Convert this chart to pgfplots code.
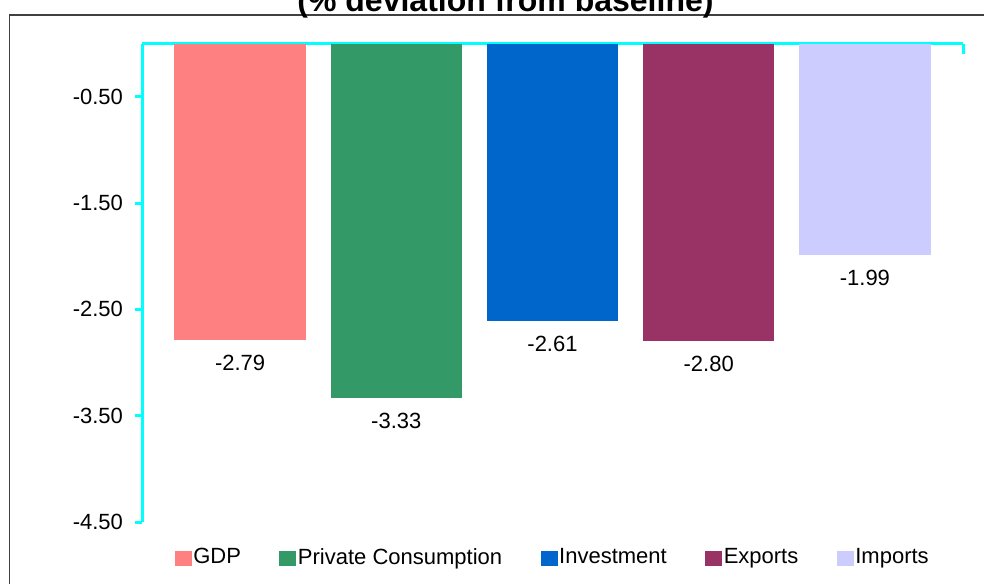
\documentclass[border=0pt]{standalone}
\usepackage{fontspec}
\setmainfont{Liberation Sans}
\usepackage{pgfplots}
\pgfplotsset{compat=1.18}
\definecolor{cGDP}{HTML}{FF8080}
\definecolor{cPC}{HTML}{339966}
\definecolor{cInv}{HTML}{0066CC}
\definecolor{cExp}{HTML}{993366}
\definecolor{cImp}{HTML}{CCCCFF}
\definecolor{axcyan}{HTML}{00FFFF}
\begin{document}
\begin{tikzpicture}
\useasboundingbox (0,0) rectangle (492pt,-291.5pt);
\draw[black!75, line width=0.9pt] (4.75pt,-300pt) -- (4.75pt,-7.35pt) -- (500pt,-7.35pt);
\node[font=\bfseries\fontsize{16}{19}\selectfont, anchor=base, inner sep=0pt] at (252.75pt,-5.75pt) {(\% deviation from baseline)};
\begin{axis}[
  at={(71pt,-21.75pt)}, anchor=north west,
  scale only axis, width=410.5pt, height=239.25pt,
  xmin=-0.628, xmax=4.628, ymin=-4.5, ymax=0,
  axis x line=top, axis y line=left,
  axis line style={-, axcyan, line width=1.5pt},
  xtick=\empty,
  ytick={-4.5,-3.5,-2.5,-1.5,-0.5},
  tick align=outside,
  major tick length=3.5pt,
  ytick style={axcyan, line width=1.5pt},
  /pgf/number format/assume math mode=true,
  yticklabel style={font=\fontsize{11}{13}\selectfont, xshift=-2.5pt, /pgf/number format/fixed, /pgf/number format/zerofill, /pgf/number format/precision=2},
  ybar, bar width=0.84,
  nodes near coords,
  nodes near coords style={font=\fontsize{11}{13}\selectfont, text=black, /pgf/number format/fixed, /pgf/number format/zerofill, /pgf/number format/precision=2, yshift=-4pt},
  legend columns=5,
  legend style={at={(0.5,-0.0745)}, anchor=center, draw=none, fill=none, font=\fontsize{11}{13}\selectfont,
    nodes={inner sep=0.75pt},
    /tikz/every even column/.append style={column sep=18.5pt}},
  legend image code/.code={\fill[#1] (0pt,-4pt) rectangle (8.5pt,3.5pt);},
  clip=false,
]
\addplot[fill=cGDP, draw=none, bar shift=0] coordinates {(0,-2.79)};
\addlegendentry{GDP}
\addplot[fill=cPC, draw=none, bar shift=0] coordinates {(1,-3.33)};
\addlegendentry{Private Consumption}
\addplot[fill=cInv, draw=none, bar shift=0] coordinates {(2,-2.61)};
\addlegendentry{Investment}
\addplot[fill=cExp, draw=none, bar shift=0] coordinates {(3,-2.80)};
\addlegendentry{Exports}
\addplot[fill=cImp, draw=none, bar shift=0] coordinates {(4,-1.99)};
\addlegendentry{Imports}
\draw[axcyan, line width=1.5pt] (axis cs:4.628,0) -- ++(0pt,-5pt);
\end{axis}
\end{tikzpicture}
\end{document}
